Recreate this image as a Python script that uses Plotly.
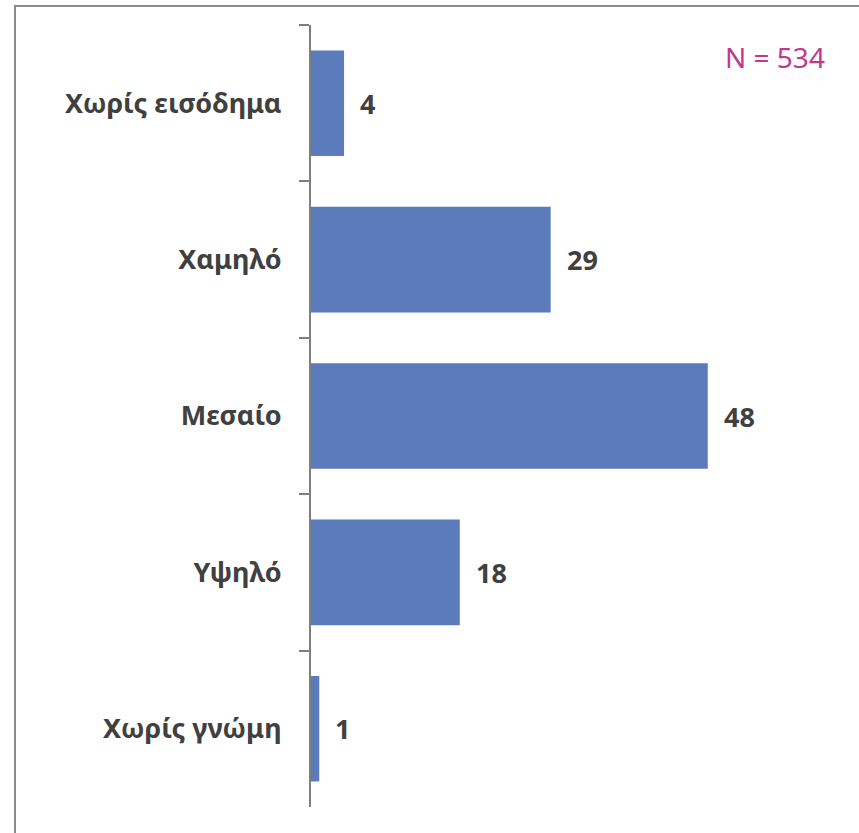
import plotly.graph_objects as go

categories = ["Χωρίς εισόδημα", "Χαμηλό", "Μεσαίο", "Υψηλό", "Χωρίς γνώμη"]
values = [4, 29, 48, 18, 1]
note = "N = 534"

W, H = 859, 833
ml, mr, mt, mb = 311, 19, 25, 26
pw, ph = W - ml - mr, H - mt - mb

fig = go.Figure(go.Bar(
    x=values, y=categories, orientation="h",
    marker=dict(color="#5B7BBA", line=dict(width=0)),
    hoverinfo="skip",
))

for v, c in zip(values, categories):
    fig.add_annotation(x=v, y=c, xref="x", yref="y", text=str(v), showarrow=False,
                       xanchor="left", xshift=14,
                       font=dict(family="Noto Sans", size=27, color="#404040", weight="bold"))

fig.add_annotation(x=(827 - ml) / pw, y=(H - mb - 57) / ph, xref="paper", yref="paper",
                   yanchor="middle", xanchor="right", text=note, showarrow=False,
                   font=dict(family="Noto Sans", size=28, color="#C0398E"))

fig.add_shape(type="rect", xref="paper", yref="paper",
              x0=(15 - ml) / pw, x1=1.2, y0=-0.2, y1=1 + (mt - 6) / ph,
              line=dict(color="#8C8C8C", width=2), fillcolor="rgba(0,0,0,0)", layer="below")

fig.update_layout(
    width=W, height=H,
    margin=dict(l=ml, r=mr, t=mt, b=mb, autoexpand=False),
    paper_bgcolor="white", plot_bgcolor="white",
    bargap=0.325, showlegend=False,
    xaxis=dict(range=[0, 64], visible=False, fixedrange=True),
    yaxis=dict(autorange="reversed", showline=True, linecolor="#7F7F7F", linewidth=2,
               ticks="outside", ticklen=10, tickcolor="#7F7F7F", tickwidth=2,
               tickson="boundaries", ticklabelstandoff=22,
               tickfont=dict(family="Noto Sans", size=27, color="#404040", weight="bold"),
               showgrid=False, zeroline=False, fixedrange=True),
)

fig.write_html("out.html", config={"displayModeBar": False},
               post_script="document.body.style.margin='0';document.body.style.overflow='hidden';")
